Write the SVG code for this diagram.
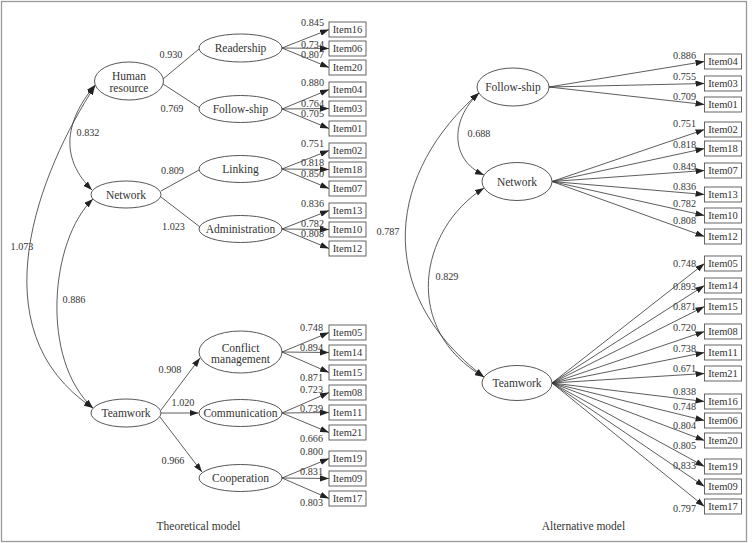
<svg xmlns="http://www.w3.org/2000/svg" width="752" height="543" viewBox="0 0 752 543" font-family="'Liberation Serif', 'DejaVu Serif', serif">
<style>
text{font-family:'Liberation Serif','DejaVu Serif',serif;fill:#333}
.n{font-size:11.5px;text-anchor:middle}
.it{font-size:10.5px;text-anchor:middle}
.w{font-size:10.2px;text-anchor:end}
.c{font-size:10.2px;text-anchor:middle}
.cap{font-size:11.5px;text-anchor:middle}
ellipse{fill:#fff;stroke:#444;stroke-width:0.9}
rect.b{fill:#fff;stroke:#555;stroke-width:0.9}
#edges path{fill:none;stroke:#333;stroke-width:0.8}
.a{marker-end:url(#ah)}
.d{marker-start:url(#ah);marker-end:url(#ah)}
</style>
<defs>
<marker id="ah" viewBox="0 0 10 7" refX="10" refY="3.5" markerWidth="9" markerHeight="6.3" markerUnits="userSpaceOnUse" orient="auto-start-reverse"><path d="M0,0 L10,3.5 L0,7 z" fill="#222"/></marker>
</defs>
<rect x="1.5" y="1.5" width="745" height="540" fill="#fff" stroke="#999" stroke-width="1.3"/>

<g id="edges">
<path d="M163,79 L199,49"/>
<path d="M163,84 L200,108"/>
<path d="M161,191 L199,170"/>
<path d="M161,197 L200,227"/>
<path class="a" d="M161,410 L200,358"/>
<path class="a" d="M161,413 L198.5,413"/>
<path class="a" d="M160,417 L202,472"/>
<path class="d" d="M95,85 C62,125 62,160 92,190"/>
<path class="d" d="M95,86 C40,170 -25,330 93,408"/>
<path class="d" d="M93,199 C50,240 40,360 93,408"/>
<path class="a" d="M282,48 L329,29.5"/>
<path class="a" d="M282,48 L329,48.5"/>
<path class="a" d="M282,48 L329,67.5"/>
<path class="a" d="M282,109 L329,89.5"/>
<path class="a" d="M282,109 L329,108.5"/>
<path class="a" d="M282,109 L329,128.5"/>
<path class="a" d="M282,169 L329,150.5"/>
<path class="a" d="M282,169 L329,169.5"/>
<path class="a" d="M282,169 L329,188.5"/>
<path class="a" d="M282,229 L329,210.5"/>
<path class="a" d="M282,229 L329,229.5"/>
<path class="a" d="M282,229 L329,248.5"/>
<path class="a" d="M282,352 L329,332.5"/>
<path class="a" d="M282,352 L329,352.5"/>
<path class="a" d="M282,352 L329,372.5"/>
<path class="a" d="M282,413 L329,392.5"/>
<path class="a" d="M282,413 L329,412.5"/>
<path class="a" d="M282,413 L329,432.5"/>
<path class="a" d="M282,478 L329,458.5"/>
<path class="a" d="M282,478 L329,478.5"/>
<path class="a" d="M282,478 L329,498.5"/>
<path class="d" d="M479,93 C450,120 450,160 484,175"/>
<path class="d" d="M479,93 C390,170 370,290 484,377"/>
<path class="d" d="M484,188 C418,230 402,330 484,377"/>
<path class="a" d="M549,87 L704.5,61.5"/>
<path class="a" d="M549,87 L704.5,83.5"/>
<path class="a" d="M549,87 L704.5,104.5"/>
<path class="a" d="M552,181.5 L704.5,129.5"/>
<path class="a" d="M552,181.5 L704.5,148.5"/>
<path class="a" d="M552,181.5 L704.5,170.5"/>
<path class="a" d="M552,181.5 L704.5,194.5"/>
<path class="a" d="M552,181.5 L704.5,215.5"/>
<path class="a" d="M552,181.5 L704.5,236.5"/>
<path class="a" d="M552,383 L704.5,263.5"/>
<path class="a" d="M552,383 L704.5,285.5"/>
<path class="a" d="M552,383 L704.5,306.5"/>
<path class="a" d="M552,383 L704.5,331.5"/>
<path class="a" d="M552,383 L704.5,352.5"/>
<path class="a" d="M552,383 L704.5,373.5"/>
<path class="a" d="M552,383 L704.5,401.5"/>
<path class="a" d="M552,383 L704.5,420.5"/>
<path class="a" d="M552,383 L704.5,440.5"/>
<path class="a" d="M552,383 L704.5,466.5"/>
<path class="a" d="M552,383 L704.5,486.5"/>
<path class="a" d="M552,383 L704.5,506.5"/>
</g>

<g id="edge-labels">
<text class="c" x="171" y="57.5">0.930</text>
<text class="c" x="172" y="112">0.769</text>
<text class="c" x="172.5" y="173.5">0.809</text>
<text class="c" x="173.5" y="229.5">1.023</text>
<text class="c" x="170" y="372.5">0.908</text>
<text class="c" x="183" y="406">1.020</text>
<text class="c" x="173" y="463.5">0.966</text>
<text class="c" x="88" y="136">0.832</text>
<text class="c" x="74" y="302.5">0.886</text>
<text class="c" x="22" y="249.5">1.073</text>
<text class="c" x="479" y="136.5">0.688</text>
<text class="c" x="388" y="235">0.787</text>
<text class="c" x="447" y="280">0.829</text>

<text class="w" x="324" y="26">0.845</text>
<text class="w" x="324" y="47.5">0.734</text>
<text class="w" x="324" y="57.5">0.807</text>
<text class="w" x="324" y="86">0.880</text>
<text class="w" x="324" y="106.5">0.764</text>
<text class="w" x="324" y="117">0.705</text>
<text class="w" x="324" y="147">0.751</text>
<text class="w" x="324" y="166">0.818</text>
<text class="w" x="324" y="176.5">0.850</text>
<text class="w" x="324" y="207">0.836</text>
<text class="w" x="324" y="226.5">0.782</text>
<text class="w" x="324" y="237">0.808</text>
<text class="w" x="323" y="331">0.748</text>
<text class="w" x="323" y="351">0.894</text>
<text class="w" x="323" y="381">0.871</text>
<text class="w" x="323" y="392.5">0.723</text>
<text class="w" x="323" y="412">0.739</text>
<text class="w" x="323" y="442">0.666</text>
<text class="w" x="323" y="455">0.800</text>
<text class="w" x="323" y="475">0.831</text>
<text class="w" x="323" y="506">0.803</text>

<text class="w" x="696" y="58.5">0.886</text>
<text class="w" x="696" y="80">0.755</text>
<text class="w" x="696" y="100">0.709</text>
<text class="w" x="696" y="127">0.751</text>
<text class="w" x="696" y="147.5">0.818</text>
<text class="w" x="696" y="169.5">0.849</text>
<text class="w" x="696" y="189.5">0.836</text>
<text class="w" x="696" y="207">0.782</text>
<text class="w" x="696" y="223.5">0.808</text>
<text class="w" x="696" y="266.5">0.748</text>
<text class="w" x="696" y="289.5">0.893</text>
<text class="w" x="696" y="310">0.871</text>
<text class="w" x="696" y="331">0.720</text>
<text class="w" x="696" y="352">0.738</text>
<text class="w" x="696" y="372">0.671</text>
<text class="w" x="696" y="395">0.838</text>
<text class="w" x="696" y="409.5">0.748</text>
<text class="w" x="696" y="428.5">0.804</text>
<text class="w" x="696" y="449">0.805</text>
<text class="w" x="696" y="468.5">0.833</text>
<text class="w" x="696" y="512">0.797</text>
</g>

<g id="L-human-resource"><ellipse cx="129" cy="81" rx="34.5" ry="19"/><text class="n" x="129" y="79.5">Human</text><text class="n" x="129" y="92">resource</text></g>
<g id="L-network"><ellipse cx="126" cy="194.5" rx="35" ry="13.5"/><text class="n" x="126" y="198.5">Network</text></g>
<g id="L-teamwork"><ellipse cx="126" cy="413" rx="35" ry="14"/><text class="n" x="126" y="417">Teamwork</text></g>
<g id="L-readership"><ellipse cx="240.5" cy="48" rx="41.5" ry="14"/><text class="n" x="240.5" y="52">Readership</text></g>
<g id="L-followship"><ellipse cx="240.5" cy="109" rx="41.5" ry="13.5"/><text class="n" x="240.5" y="113">Follow-ship</text></g>
<g id="L-linking"><ellipse cx="240.5" cy="169" rx="41.5" ry="13.5"/><text class="n" x="240.5" y="173">Linking</text></g>
<g id="L-administration"><ellipse cx="240.5" cy="229" rx="41.5" ry="13.5"/><text class="n" x="240.5" y="233">Administration</text></g>
<g id="L-conflict"><ellipse cx="240.5" cy="352" rx="41.5" ry="21"/><text class="n" x="240.5" y="352">Conflict</text><text class="n" x="240.5" y="363">management</text></g>
<g id="L-communication"><ellipse cx="240.5" cy="413" rx="41.5" ry="13.5"/><text class="n" x="240.5" y="417">Communication</text></g>
<g id="L-cooperation"><ellipse cx="240.5" cy="478" rx="41.5" ry="13.5"/><text class="n" x="240.5" y="482">Cooperation</text></g>

<g id="L-item16"><rect class="b" x="329" y="22" width="37" height="15"/><text class="it" x="347.5" y="33.2">Item16</text></g>
<g id="L-item06"><rect class="b" x="329" y="41" width="37" height="15"/><text class="it" x="347.5" y="52.2">Item06</text></g>
<g id="L-item20"><rect class="b" x="329" y="60" width="37" height="15"/><text class="it" x="347.5" y="71.2">Item20</text></g>
<g id="L-item04"><rect class="b" x="329" y="82" width="37" height="15"/><text class="it" x="347.5" y="93.2">Item04</text></g>
<g id="L-item03"><rect class="b" x="329" y="101" width="37" height="15"/><text class="it" x="347.5" y="112.2">Item03</text></g>
<g id="L-item01"><rect class="b" x="329" y="121" width="37" height="15"/><text class="it" x="347.5" y="132.2">Item01</text></g>
<g id="L-item02"><rect class="b" x="329" y="143" width="37" height="15"/><text class="it" x="347.5" y="154.2">Item02</text></g>
<g id="L-item18"><rect class="b" x="329" y="162" width="37" height="15"/><text class="it" x="347.5" y="173.2">Item18</text></g>
<g id="L-item07"><rect class="b" x="329" y="181" width="37" height="15"/><text class="it" x="347.5" y="192.2">Item07</text></g>
<g id="L-item13"><rect class="b" x="329" y="203" width="37" height="15"/><text class="it" x="347.5" y="214.2">Item13</text></g>
<g id="L-item10"><rect class="b" x="329" y="222" width="37" height="15"/><text class="it" x="347.5" y="233.2">Item10</text></g>
<g id="L-item12"><rect class="b" x="329" y="241" width="37" height="15"/><text class="it" x="347.5" y="252.2">Item12</text></g>
<g id="L-item05"><rect class="b" x="329" y="325" width="37" height="15"/><text class="it" x="347.5" y="336.2">Item05</text></g>
<g id="L-item14"><rect class="b" x="329" y="345" width="37" height="15"/><text class="it" x="347.5" y="356.2">Item14</text></g>
<g id="L-item15"><rect class="b" x="329" y="365" width="37" height="15"/><text class="it" x="347.5" y="376.2">Item15</text></g>
<g id="L-item08"><rect class="b" x="329" y="385" width="37" height="15"/><text class="it" x="347.5" y="396.2">Item08</text></g>
<g id="L-item11"><rect class="b" x="329" y="405" width="37" height="15"/><text class="it" x="347.5" y="416.2">Item11</text></g>
<g id="L-item21"><rect class="b" x="329" y="425" width="37" height="15"/><text class="it" x="347.5" y="436.2">Item21</text></g>
<g id="L-item19"><rect class="b" x="329" y="451" width="37" height="15"/><text class="it" x="347.5" y="462.2">Item19</text></g>
<g id="L-item09"><rect class="b" x="329" y="471" width="37" height="15"/><text class="it" x="347.5" y="482.2">Item09</text></g>
<g id="L-item17"><rect class="b" x="329" y="491" width="37" height="15"/><text class="it" x="347.5" y="502.2">Item17</text></g>

<g id="R-followship"><ellipse cx="513" cy="87" rx="36" ry="19"/><text class="n" x="513" y="91">Follow-ship</text></g>
<g id="R-network"><ellipse cx="517" cy="181.5" rx="35" ry="19"/><text class="n" x="517" y="185.5">Network</text></g>
<g id="R-teamwork"><ellipse cx="517" cy="383" rx="35" ry="17.5"/><text class="n" x="517" y="387">Teamwork</text></g>

<g id="R-item04"><rect class="b" x="704.5" y="54" width="37" height="15"/><text class="it" x="723" y="65.2">Item04</text></g>
<g id="R-item03"><rect class="b" x="704.5" y="76" width="37" height="15"/><text class="it" x="723" y="87.2">Item03</text></g>
<g id="R-item01"><rect class="b" x="704.5" y="97" width="37" height="15"/><text class="it" x="723" y="108.2">Item01</text></g>
<g id="R-item02"><rect class="b" x="704.5" y="122" width="37" height="15"/><text class="it" x="723" y="133.2">Item02</text></g>
<g id="R-item18"><rect class="b" x="704.5" y="141" width="37" height="15"/><text class="it" x="723" y="152.2">Item18</text></g>
<g id="R-item07"><rect class="b" x="704.5" y="163" width="37" height="15"/><text class="it" x="723" y="174.2">Item07</text></g>
<g id="R-item13"><rect class="b" x="704.5" y="187" width="37" height="15"/><text class="it" x="723" y="198.2">Item13</text></g>
<g id="R-item10"><rect class="b" x="704.5" y="208" width="37" height="15"/><text class="it" x="723" y="219.2">Item10</text></g>
<g id="R-item12"><rect class="b" x="704.5" y="229" width="37" height="15"/><text class="it" x="723" y="240.2">Item12</text></g>
<g id="R-item05"><rect class="b" x="704.5" y="256" width="37" height="15"/><text class="it" x="723" y="267.2">Item05</text></g>
<g id="R-item14"><rect class="b" x="704.5" y="278" width="37" height="15"/><text class="it" x="723" y="289.2">Item14</text></g>
<g id="R-item15"><rect class="b" x="704.5" y="299" width="37" height="15"/><text class="it" x="723" y="310.2">Item15</text></g>
<g id="R-item08"><rect class="b" x="704.5" y="324" width="37" height="15"/><text class="it" x="723" y="335.2">Item08</text></g>
<g id="R-item11"><rect class="b" x="704.5" y="345" width="37" height="15"/><text class="it" x="723" y="356.2">Item11</text></g>
<g id="R-item21"><rect class="b" x="704.5" y="366" width="37" height="15"/><text class="it" x="723" y="377.2">Item21</text></g>
<g id="R-item16"><rect class="b" x="704.5" y="394" width="37" height="15"/><text class="it" x="723" y="405.2">Item16</text></g>
<g id="R-item06"><rect class="b" x="704.5" y="413" width="37" height="15"/><text class="it" x="723" y="424.2">Item06</text></g>
<g id="R-item20"><rect class="b" x="704.5" y="433" width="37" height="15"/><text class="it" x="723" y="444.2">Item20</text></g>
<g id="R-item19"><rect class="b" x="704.5" y="459" width="37" height="15"/><text class="it" x="723" y="470.2">Item19</text></g>
<g id="R-item09"><rect class="b" x="704.5" y="479" width="37" height="15"/><text class="it" x="723" y="490.2">Item09</text></g>
<g id="R-item17"><rect class="b" x="704.5" y="499" width="37" height="15"/><text class="it" x="723" y="510.2">Item17</text></g>

<text class="cap" x="198.5" y="530">Theoretical model</text>
<text class="cap" x="583.5" y="530">Alternative model</text>
</svg>
